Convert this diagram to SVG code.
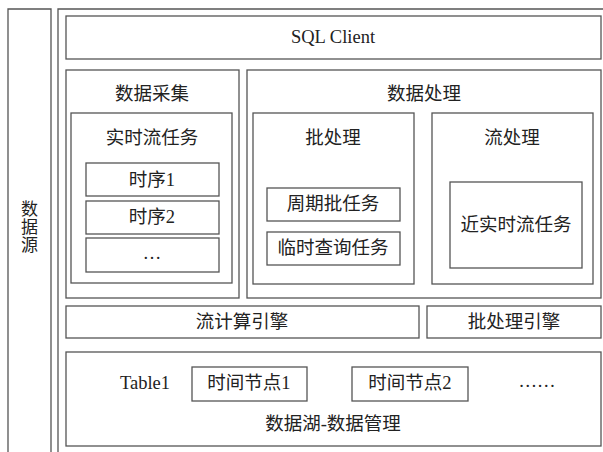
<svg xmlns="http://www.w3.org/2000/svg" width="603" height="452" viewBox="0 0 603 452">
  <style>
    .box { fill: #ffffff; stroke: #555555; stroke-width: 1.3; }
    .t { font-family: "Liberation Serif", "Noto Sans CJK SC", serif; font-size: 18.5px; fill: #222222; text-anchor: middle; dominant-baseline: central; }
    .v { font-size: 17px; }
  </style>
  <rect x="0" y="0" width="603" height="452" fill="#ffffff"/>

  <!-- data source column -->
  <g id="source">
    <path class="box" d="M8,460 V9 H51 V460"/>
    <text class="t v" x="29.5" y="209">数</text>
    <text class="t v" x="29.5" y="227">据</text>
    <text class="t v" x="29.5" y="245">源</text>
  </g>

  <!-- platform frame -->
  <g id="platform">
    <path class="box" d="M58,460 V9 H610"/>
  </g>

  <g id="sql-client">
    <rect class="box" x="66" y="16" width="535" height="43"/>
    <text class="t" x="333" y="37">SQL Client</text>
  </g>

  <g id="collect">
    <rect class="box" x="66" y="70" width="173" height="228"/>
    <text class="t" x="152" y="94">数据采集</text>
  </g>
  <g id="realtime-tasks">
    <rect class="box" x="71" y="113" width="161" height="170"/>
    <text class="t" x="152" y="138">实时流任务</text>
  </g>
  <g id="seq1">
    <rect class="box" x="86" y="163" width="133" height="33"/>
    <text class="t" x="152" y="180">时序1</text>
  </g>
  <g id="seq2">
    <rect class="box" x="86" y="201" width="133" height="33"/>
    <text class="t" x="152" y="217">时序2</text>
  </g>
  <g id="seq-more">
    <rect class="box" x="86" y="238" width="133" height="34"/>
    <text class="t" x="152" y="253">…</text>
  </g>

  <g id="processing">
    <rect class="box" x="247" y="70" width="354" height="228"/>
    <text class="t" x="424" y="94">数据处理</text>
  </g>
  <g id="batch">
    <rect class="box" x="253" y="113" width="161" height="171"/>
    <text class="t" x="333" y="138">批处理</text>
  </g>
  <g id="periodic">
    <rect class="box" x="267" y="188" width="133" height="33"/>
    <text class="t" x="333" y="204">周期批任务</text>
  </g>
  <g id="adhoc">
    <rect class="box" x="267" y="232" width="133" height="33"/>
    <text class="t" x="333" y="248">临时查询任务</text>
  </g>
  <g id="stream">
    <rect class="box" x="432" y="113" width="161" height="171"/>
    <text class="t" x="512" y="138">流处理</text>
  </g>
  <g id="near-realtime">
    <rect class="box" x="450" y="182" width="132" height="86"/>
    <text class="t" x="516" y="225">近实时流任务</text>
  </g>

  <g id="stream-engine">
    <rect class="box" x="66" y="306" width="353" height="32"/>
    <text class="t" x="242" y="322">流计算引擎</text>
  </g>
  <g id="batch-engine">
    <rect class="box" x="427" y="306" width="174" height="32"/>
    <text class="t" x="514" y="322">批处理引擎</text>
  </g>

  <g id="lake">
    <rect class="box" x="66" y="352" width="535" height="94"/>
    <text class="t" x="145" y="383">Table1</text>
    <text class="t" x="537" y="381">……</text>
    <text class="t" x="333" y="424">数据湖-数据管理</text>
  </g>
  <g id="node1">
    <rect class="box" x="192" y="367" width="115" height="34"/>
    <text class="t" x="249" y="383">时间节点1</text>
  </g>
  <g id="node2">
    <rect class="box" x="352" y="367" width="116" height="34"/>
    <text class="t" x="410" y="383">时间节点2</text>
  </g>

  <g id="connectors"/>
</svg>
